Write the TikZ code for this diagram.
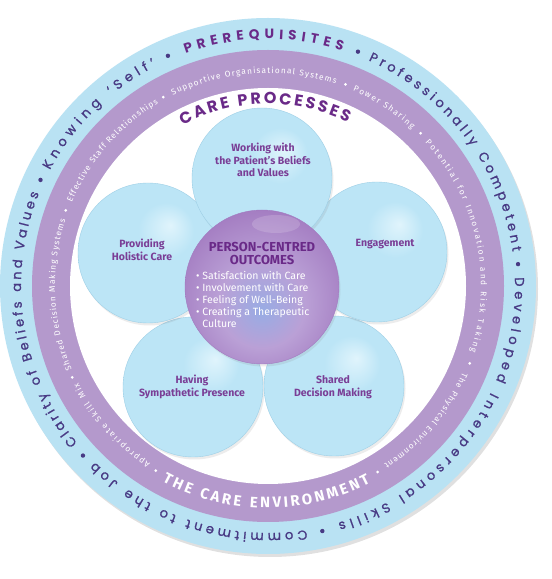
\documentclass[tikz,border=0pt]{standalone}
\usepackage{fontspec}
\setmainfont{Fira Sans}
\newfontfamily\ringfont{Poppins}[FakeBold=1.2]
\newfontfamily\ringheavy{Poppins}
\usetikzlibrary{decorations.text, shadows}
\usepackage{xcolor}

\definecolor{ringblue}{RGB}{185,226,243}
\definecolor{ringlilac}{RGB}{180,153,204}
\definecolor{ringink}{RGB}{72,58,132}
\definecolor{headink}{RGB}{106,42,136}
\definecolor{petalink}{RGB}{122,62,150}
\definecolor{petalhi}{RGB}{224,244,252}
\definecolor{petal}{RGB}{188,229,246}
\definecolor{petaldk}{RGB}{158,207,230}
\definecolor{pcoblue}{RGB}{152,172,228}
\definecolor{pcomid}{RGB}{186,160,214}
\definecolor{pcoedge}{RGB}{162,122,192}

\pgfdeclareradialshading{petalglow}{\pgfpoint{8bp}{10bp}}{color(0bp)=(petalhi); color(10bp)=(petal); color(30bp)=(petal); color(40bp)=(petaldk); color(50bp)=(petaldk)}
\pgfdeclareradialshading{pcoglow}{\pgfpoint{0bp}{-8bp}}{color(0bp)=(pcoblue); color(14bp)=(pcomid); color(30bp)=(pcoedge); color(50bp)=(pcoedge)}

\newcommand\ringfmt{\ringfont\fontsize{13}{15}\selectfont}
\newcommand\prqfmt{\ringheavy\bfseries\fontsize{13.5}{15}\selectfont}
\newcommand\procfmt{\ringheavy\bfseries\fontsize{16}{18}\selectfont}
\newcommand\lilacfmt{\fontsize{8.3}{10}\selectfont}
\newcommand\envfmt{\bfseries\fontsize{15}{16}\selectfont}

\begin{document}
\begin{tikzpicture}[x=1pt, y=1pt,
  petal/.style={circle, minimum size=140pt, inner sep=0pt, shade, shading=petalglow,
    draw=petaldk, line width=0.4pt,
    drop shadow={shadow xshift=1.5pt, shadow yshift=-2.5pt, opacity=0.15}},
  plabel/.style={align=center, text=petalink, font=\fontsize{10.5}{12.5}\selectfont\bfseries},
  ringtext/.style 2 args={decorate, decoration={text along path,
    text align={fit to path}, text color=#1, text={#2}}},
  ringdot/.style={fill=ringink},
  lilacdot/.style={fill=white}
]
  \useasboundingbox (0,0) rectangle (552,579);
  \fill[white] (0,0) rectangle (552,579);
  \coordinate (ring) at (268,293);

  \fill[black, opacity=0.12] ([shift={(2,-3)}]ring) circle[radius=268];
  \fill[ringblue] (ring) circle[radius=268];
  \fill[ringlilac] (ring) circle[radius=236];
  \fill[white] (ring) circle[radius=198];

  \path[ringtext={headink}{|\prqfmt|PREREQUISITES}] ([shift={(109.5:247)}]ring) arc[start angle=109.5, end angle=72.5, radius=247];
  \path[ringtext={ringink}{|\ringfmt|Professionally Competent}] ([shift={(66:247)}]ring) arc[start angle=66, end angle=8, radius=247];
  \path[ringtext={ringink}{|\ringfmt|Developed Interpersonal Skills}] ([shift={(2:247)}]ring) arc[start angle=2, end angle=-73.5, radius=247];
  \path[ringtext={ringink}{|\ringfmt|Commitment to the Job}] ([shift={(-81:247)}]ring) arc[start angle=-81, end angle=-134.5, radius=247];
  \path[ringtext={ringink}{|\ringfmt|Clarity of Beliefs and Values}] ([shift={(219.5:247)}]ring) arc[start angle=219.5, end angle=158, radius=247];
  \path[ringtext={ringink}{|\ringfmt|Knowing ‘Self’}] ([shift={(152:247)}]ring) arc[start angle=152, end angle=117, radius=247];
  \foreach \a in {113.5, 69, 5, -77.5, 222.5, 155}
    \fill[ringdot] ([shift={(\a:251)}]ring) circle[radius=2.2];

  \path[ringtext={white}{|\lilacfmt|Effective Staff Relationships}] ([shift={(157:213)}]ring) arc[start angle=157, end angle=121, radius=213];
  \path[ringtext={white}{|\lilacfmt|Supportive Organisational Systems}] ([shift={(116.5:213)}]ring) arc[start angle=116.5, end angle=71.5, radius=213];
  \path[ringtext={white}{|\lilacfmt|Power Sharing}] ([shift={(66.5:213)}]ring) arc[start angle=66.5, end angle=47.5, radius=213];
  \path[ringtext={white}{|\lilacfmt|Potential for Innovation and Risk Taking}] ([shift={(42.5:213)}]ring) arc[start angle=42.5, end angle=-18, radius=213];
  \path[ringtext={white}{|\lilacfmt|The Physical Environment}] ([shift={(-24:213)}]ring) arc[start angle=-24, end angle=-57, radius=213];
  \path[ringtext={white}{|\lilacfmt|Appropriate Skill Mix}] ([shift={(236.5:213)}]ring) arc[start angle=236.5, end angle=207, radius=213];
  \path[ringtext={white}{|\lilacfmt|Shared Decision Making Systems}] ([shift={(203:213)}]ring) arc[start angle=203, end angle=162, radius=213];
  \path[ringtext={white}{|\envfmt|THE CARE ENVIRONMENT}] ([shift={(241.5:222)}]ring) arc[start angle=241.5, end angle=297.5, radius=222];
  \foreach \a in {159.5, 119, 69, 45, -21, -59.5, 238.7, 205}
    \fill[lilacdot] ([shift={(\a:216)}]ring) circle[radius=1.5];

  \path[ringtext={headink}{|\procfmt|CARE PROCESSES}] ([shift={(118:182)}]ring) arc[start angle=118, end angle=64, radius=182];

  \node[petal] (hsp) at (193,192) {};
  \node[petal] (sdm) at (334,193) {};
  \node[petal] (phc) at (148,326) {};
  \node[petal] (eng) at (377,327) {};
  \node[petal] (wbv) at (262,401) {};
  \node[circle, minimum size=154pt, inner sep=0pt, shade, shading=pcoglow, draw=pcoedge,
    line width=0.4pt, drop shadow={shadow xshift=1.5pt, shadow yshift=-2.5pt, opacity=0.15}] (pco) at (262,292) {};
  \fill[white, opacity=0.16] (276,355) ellipse[x radius=24, y radius=9];

  \node[plabel] (wbvl) at (263,419) {Working with\\the Patient’s Beliefs\\and Values};
  \node[plabel] (phcl) at (142,329) {Providing\\Holistic Care};
  \node[plabel] (engl) at (385,335) {Engagement};
  \node[plabel] (hspl) at (192,192) {Having\\Sympathetic Presence};
  \node[plabel] (sdml) at (333,192) {Shared\\Decision Making};

  \node[align=center, text=headink, font=\fontsize{13}{13.5}\selectfont\bfseries] (pcot) at (262,325.5) {PERSON-CENTRED\\OUTCOMES};
  \node[align=left, text=white, inner sep=0pt, anchor=north west, font=\fontsize{10.5}{12}\selectfont] (pcol) at (196,308) {• Satisfaction with Care\\• Involvement with Care\\• Feeling of Well-Being\\• Creating a Therapeutic\\\phantom{• }Culture};
\end{tikzpicture}
\end{document}
